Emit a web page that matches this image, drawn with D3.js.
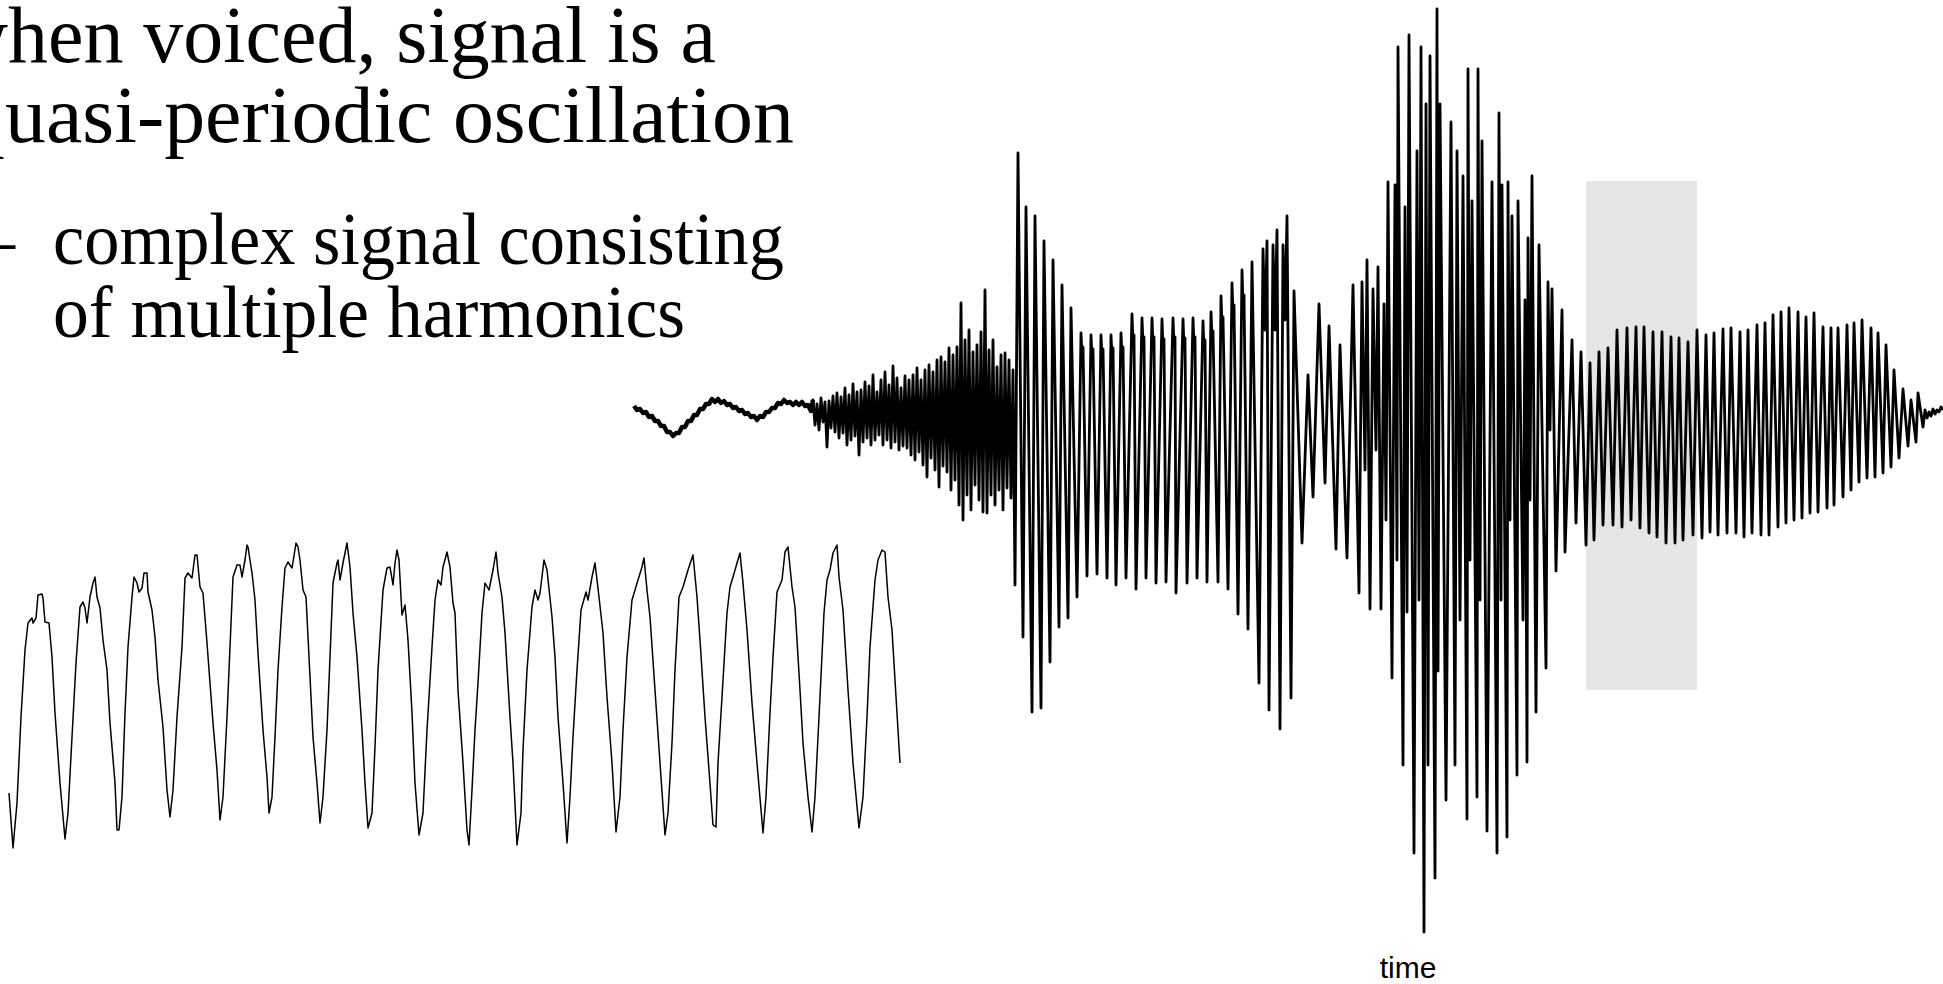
<!DOCTYPE html>
<html><head><meta charset="utf-8">
<script src="https://cdn.jsdelivr.net/npm/d3@7"></script>
<style>html,body{margin:0;padding:0;background:#fff;overflow:hidden}</style>
</head><body>
<svg id="chart" width="1943" height="984"></svg>
<script>
// ---------- text ----------
const headline = ["when voiced, signal is a", "quasi-periodic oscillation"];
const bulletMark = "–";
const bullet = ["complex signal consisting", "of multiple harmonics"];
const axisLabel = "time";

// ---------- utterance waveform: [sample, amplitude] ----------
const leadIn = [[0,9],[3,5],[6,6],[9,2],[12,3],[15,-2],[18,-1],[21,-6],[24,-6],[27,-11],[30,-11],[33,-17],[36,-17],[39,-21],[42,-18],[45,-18],[48,-12],[51,-12],[54,-6],[57,-6],[60,0],[63,0],[66,6],[69,6],[72,11],[75,11],[78,16],[81,13],[84,16],[87,12],[90,14],[93,10],[96,11],[99,7],[102,8],[105,4],[108,5],[111,1],[114,2],[117,-2],[120,-1],[123,-5],[126,-1],[129,-2],[132,3],[135,3],[138,7],[141,7],[144,12],[147,11],[150,15],[153,12],[156,13],[159,10],[162,13],[165,10],[168,13],[171,9],[174,10],[177,4]];

const fricative = [[179,15],[181,-10],[183,11],[185,-15],[187,17],[189,-7],[191,13],[193,-32],[195,14],[197,-13],[199,19],[201,-17],
[203,22],[205,-23],[207,18],[209,-18],[211,27],[213,-30],[215,20],[217,-25],[219,31],[221,-21],[223,23],[225,-40],[227,25],[229,-27],[231,33],[233,-23],[235,29],[237,-30],[239,40],[241,-25],[243,23],[245,-20],
[247,35],[249,-30],[251,43],[253,-25],[255,30],[257,-33],[259,49],[261,-27],[263,37],[265,-35],[267,27],[269,-31],[271,39],[273,-33],[275,35],[277,-40],
[279,40],[281,-45],[283,47],[285,-37],[287,35],[289,-50],[291,45],[293,-62],[295,50],[297,-43],[299,43],[301,-55],[303,55],[305,-72],[307,58],[309,-51],[311,53],
[313,-57],[315,67],[317,-75],[319,60],[321,-65],[323,68],[325,-90],[327,112],[329,-105],[331,75],[333,-80],[335,85],[337,-95],[339,63],[341,-70],
[343,70],[345,-85],[347,83],[349,-97],[351,125],[353,-98],[355,65],[357,-80],[359,75],[361,-90],[363,48],[365,-75],[367,60],[369,-95],[371,62],[373,-73],[375,55],[377,-83],[379,45],[381,-170]];

const vowelA = [[384,262],[389,-222],[392,208],[398,-297],[401,199],[407,-293],[410,174],[416,-247],[419,155],[425,-212],[428,130],[434,-203],[437,107],[443,-182],
[447,82],[448,60],[449,68],[453,-161],[457,80],[458,57],[459,66],[463,-159],[467,80],[468,57],[469,66],[473,-163],[477,80],[478,58],[479,67],[482,-170],
[487,82],[488,60],[489,68],[492,-163],[498,101],[499,72],[500,80],[502,-174],[508,97],[509,70],[510,78],[512,-163],[518,97],[519,70],[520,78],[522,-168],
[528,96],[529,68],[530,76],[532,-167],[539,97],[540,70],[541,78],[542,-178],[549,96],[550,68],[551,77],[553,-168],[559,97],[560,70],[561,78],[563,-163],
[569,94],[570,66],[571,75],[573,-167],[577,103],[578,76],[579,84],[584,-167],[587,119],[588,90],[589,98],[594,-174],[598,132],[599,100],[600,110],[604,-199],
[608,145],[609,110],[610,120],[614,-214],[618,153],[625,-268],[629,166],[631,85],[633,174],[635,-295],[639,170],[641,85],[643,185],[646,-314],[649,170],[651,95],[653,199],[657,-283],[660,124],[668,-128],[674,40],[679,-82]];

const stressed = [[685,111],[691,-68],[695,89],[702,-134],[706,70],[713,-143],[719,130],[725,-178],[728,133],[731,-55],[733,155],[736,-194],[739,126],[742,-35],[744,148],[747,-194],[750,111],[752,-105],[754,233],[758,-263],[761,230],[763,-145],[764,368],[769,-350],[771,208],[773,-197],[775,380],[780,-438],[783,264],[785,-185],[787,368],[790,-517],[792,311],[794,-350],[796,359],[801,-463],[803,406],[804,-256],[806,311],[812,-385],[817,293],[821,-350],[823,264],[826,-205],[829,239],[833,-404],[834,346],[836,-145],[838,214],[843,-382],[844,346],[846,-185],[848,274],[853,-416],[858,233],[863,-438],[865,302],[867,-185],[868,230],[873,-422],[874,233],[876,-105],[878,199],[883,-360],[884,214],[889,-205],[891,115],[893,-347],[894,177],[896,-85],[898,239],[902,-297],[905,170],[912,-253],[914,133],[916,-15],[918,126],[922,-156],[928,105],[931,-137]];

const vowelB = [[938,75],[942,-108],[947,63],[952,-130],[956,52],[960,-125],[965,63],[969,-110],[974,67],[979,-110],[983,85],[988,-112],[993,87],[997,-105],[1002,88],[1006,-113],[1010,88],[1015,-118],[1019,83],[1023,-122],[1028,83],[1032,-128],[1037,78],[1041,-128],[1045,77],[1049,-125],[1054,73],[1059,-120],[1063,85],[1068,-123],[1072,80],[1076,-117],[1080,82],[1084,-120],[1089,86],[1093,-118],[1097,87],[1102,-118],[1106,83],[1110,-122],[1114,85],[1118,-118],[1123,90],[1127,-120],[1131,92],[1135,-120],[1139,100],[1144,-112],[1147,103],[1152,-108],[1155,107],[1160,-105],[1164,103],[1168,-103],[1172,98],[1176,-98],[1180,102],[1184,-97],[1189,88],[1193,-93],[1197,87],[1200,-90],[1204,87],[1209,-82],[1213,90],[1217,-75],[1220,92],[1225,-67],[1228,95],[1233,-63],[1237,87],[1241,-62],[1244,82],[1249,-58],[1252,70],[1257,-52],[1260,45],[1265,-43],[1269,26],[1274,-31],[1277,15],[1282,-27],[1284,22],[1289,-12]];

const tailOff = [[1291,5],[1293,-3],[1295,3],[1297,-1],[1299,6],[1301,1],[1303,5],[1305,3],[1307,8],[1309,5]];

// highlighted excerpt window: sample range and amplitude range
const excerptSamples = [952, 1063];
const excerptAmplitude = [-275, 234];

// ---------- excerpt waveform (zoomed): [sample, amplitude] ----------
const excerpt = [[9,-93],[13,-148],[17,-103],[21,-17],[25,50],[28,77],[32,82],[33,77],[36,82],[38,105],[42,106],[43,102],[45,78],[49,77],[52,43],[55,-13],[60,-83],[65,-139],[68,-113],[72,-37],[76,37],[80,93],[83,98],[85,92],[87,77],[90,103],[93,117],[95,123],[97,103],[100,92],[103,60],[107,30],[110,-23],[115,-83],[117,-130],[119,-130],[122,-97],[125,-13],[128,53],[132,103],[134,123],[137,117],[139,108],[142,112],[144,127],[147,127],[148,108],[152,90],[155,63],[158,20],[163,-27],[167,-90],[170,-117],[173,-90],[177,-17],[182,53],[185,122],[188,127],[192,122],[195,145],[197,145],[200,113],[203,107],[207,57],[213,-23],[217,-70],[220,-120],[223,-97],[227,-17],[230,53],[233,123],[237,135],[240,135],[242,123],[245,140],[247,155],[248,153],[252,127],[255,100],[258,47],[263,-30],[267,-77],[269,-113],[272,-97],[275,-37],[278,30],[282,93],[285,132],[288,138],[292,132],[293,138],[296,157],[298,153],[300,140],[303,110],[306,103],[308,63],[313,-37],[317,-83],[320,-123],[323,-97],[327,-30],[330,43],[333,117],[337,137],[338,140],[340,120],[343,137],[347,157],[350,133],[353,87],[357,43],[362,-30],[365,-83],[368,-128],[372,-113],[375,-47],[378,30],[383,110],[387,132],[390,133],[393,115],[395,137],[397,150],[399,140],[402,85],[405,95],[408,60],[412,-13],[415,-83],[419,-135],[423,-113],[427,-30],[432,53],[435,100],[438,120],[441,115],[443,133],[447,148],[450,133],[453,97],[455,87],[458,10],[463,-63],[467,-130],[469,-145],[472,-90],[475,-30],[478,17],[482,87],[485,117],[489,110],[493,130],[496,148],[498,127],[502,103],[505,67],[510,-17],[513,-63],[517,-145],[521,-113],[523,-50],[527,30],[532,93],[535,110],[538,100],[540,107],[544,140],[547,130],[552,83],[555,43],[558,-17],[563,-83],[567,-143],[570,-97],[573,-37],[577,30],[581,90],[586,108],[588,100],[592,123],[595,137],[599,103],[603,67],[607,3],[612,-63],[616,-132],[620,-97],[623,-30],[627,43],[632,100],[635,110],[638,120],[642,133],[644,142],[647,110],[650,83],[655,10],[660,-63],[665,-135],[668,-113],[672,-43],[675,30],[679,103],[683,113],[688,130],[693,145],[697,103],[700,60],[705,-17],[709,-70],[713,-125],[716,-127],[718,-63],[722,3],[727,87],[730,113],[733,123],[737,137],[740,147],[743,117],[747,70],[752,-3],[757,-63],[763,-133],[766,-97],[770,-13],[773,43],[777,108],[782,120],[785,148],[788,153],[792,113],[795,93],[800,10],[803,-43],[808,-97],[812,-132],[815,-97],[820,3],[824,87],[827,120],[830,130],[833,147],[837,155],[839,123],[843,90],[848,10],[853,-63],[859,-128],[863,-97],[867,-17],[870,53],[875,120],[878,140],[882,150],[885,148],[888,103],[892,70],[895,20],[898,-30],[900,-63]];

// ---------- drawing ----------
const svg = d3.select("#chart");

const xBig = d3.scaleLinear().domain([0, 1309]).range([634, 1943]);
const yBig = d3.scaleLinear().domain([-520, 420]).range([935, -5]);
const xLow = d3.scaleLinear().domain([0, 900]).range([0, 900]);
const yLow = d3.scaleLinear().domain([-160, 160]).range([860, 540]);

// excerpt window (behind the signal)
svg.append("rect")
  .attr("x", xBig(excerptSamples[0]))
  .attr("width", xBig(excerptSamples[1]) - xBig(excerptSamples[0]))
  .attr("y", yBig(excerptAmplitude[1]))
  .attr("height", yBig(excerptAmplitude[0]) - yBig(excerptAmplitude[1]))
  .attr("fill", "#e5e5e5");

const lineBig = d3.line().x(d => xBig(d[0])).y(d => yBig(d[1]));
// low-level lead-in drawn as a heavier noisy trace
svg.append("path").datum(leadIn.concat([fricative[0]]))
  .attr("d", lineBig)
  .attr("fill", "none").attr("stroke", "#000")
  .attr("stroke-width", 4.5).attr("stroke-linejoin", "round");

const voiced = [leadIn[leadIn.length - 1]].concat(fricative, vowelA, stressed, vowelB, tailOff);
svg.append("path").datum(voiced)
  .attr("d", lineBig)
  .attr("fill", "none").attr("stroke", "#000")
  .attr("stroke-width", 2.8).attr("stroke-linejoin", "round");

const lineLow = d3.line().x(d => xLow(d[0])).y(d => yLow(d[1]));
svg.append("path").datum(excerpt)
  .attr("d", lineLow)
  .attr("fill", "none").attr("stroke", "#000")
  .attr("stroke-width", 1.5).attr("stroke-linejoin", "round");

// axis label
svg.append("text").text(axisLabel)
  .attr("x", xBig(774)).attr("y", 978)
  .attr("text-anchor", "middle")
  .attr("font-family", "'Liberation Sans', Arial, sans-serif")
  .attr("font-size", 30).attr("fill", "#000");

// slide text
const serif = "'Liberation Serif', 'Times New Roman', serif";
function fitLine(str, size, baseline, inkStart, inkEnd, clippedFirst) {
  const t = svg.append("text").text(str)
    .attr("x", 0).attr("y", baseline)
    .attr("font-family", serif).attr("font-size", size).attr("fill", "#000");
  const node = t.node();
  const total = node.getComputedTextLength();
  const first = clippedFirst ? node.getSubStringLength(0, 1) : 0;
  const k = (inkEnd - inkStart) / (total - first);
  t.attr("x", inkStart - first * k)
   .attr("textLength", total * k)
   .attr("lengthAdjust", "spacingAndGlyphs");
}
fitLine(headline[0], 81, 62, 8, 716, true);
fitLine(headline[1], 81, 142, 5, 794, true);
svg.append("text").text(bulletMark)
  .attr("x", 15).attr("y", 264).attr("text-anchor", "end")
  .attr("font-family", serif).attr("font-size", 74).attr("fill", "#000");
fitLine(bullet[0], 74, 264, 53, 784, false);
fitLine(bullet[1], 74, 337, 53, 685, false);
</script>
</body></html>
